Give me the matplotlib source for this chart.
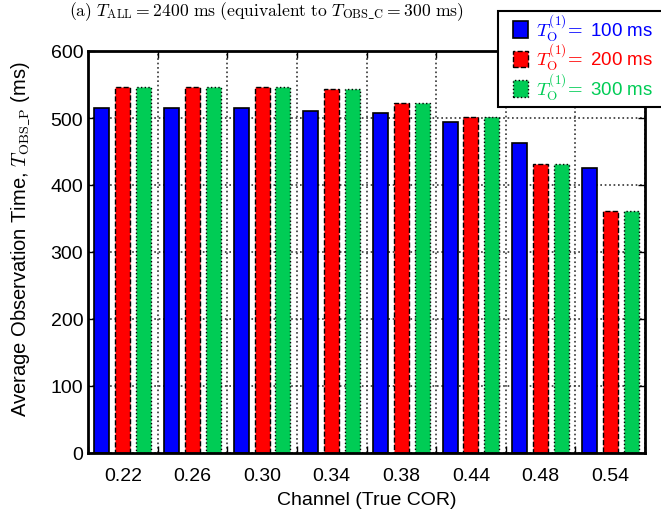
import numpy as np
import matplotlib.pyplot as plt
from matplotlib.patches import Rectangle
from matplotlib.ticker import FixedLocator, NullFormatter

channels = ['0.22', '0.26', '0.30', '0.34', '0.38', '0.44', '0.48', '0.54']
t100 = [515, 515, 515, 510, 507, 494, 463, 425]
t200 = [546, 546, 546, 543, 523, 501, 432, 361]
t300 = [546, 546, 546, 543, 523, 501, 432, 361]

plt.rcParams['font.family'] = ['Liberation Sans', 'DejaVu Sans']
plt.rcParams['mathtext.fontset'] = 'cm'

fig = plt.figure(figsize=(6.61, 5.10), dpi=100)
ax = fig.add_axes([88/661, 1-454/510, (645-88)/661, (454-52)/510])

x = np.arange(len(channels)) + 0.5
w = 0.215
green = '#00cc55'
lab = r'$T_{\mathrm{O}}^{(1)}\!=$'
ax.bar(x - 0.3, t100, w, color='#0000ff', edgecolor='black', linewidth=1.2,
       linestyle='-', label=lab + ' 100 ms', zorder=3)
ax.bar(x, t200, w, color='#ff0000', edgecolor='black', linewidth=1.0,
       linestyle='--', label=lab + ' 200 ms', zorder=3)
ax.bar(x + 0.3, t300, w, color=green, edgecolor='black', linewidth=1.0,
       linestyle=':', label=lab + ' 300 ms', zorder=3)

ax.set_xlim(0, len(channels))
ax.set_ylim(0, 600)
ax.set_yticks(np.arange(0, 601, 100))
ax.xaxis.set_major_locator(FixedLocator(np.arange(0, len(channels) + 1)))
ax.xaxis.set_major_formatter(NullFormatter())
ax.xaxis.set_minor_locator(FixedLocator(x))
ax.set_xticklabels(channels, minor=True)
ax.tick_params(axis='x', which='minor', length=0, pad=10, labelsize=14)
ax.tick_params(axis='both', which='major', direction='in', length=5,
               top=True, right=True, width=1, labelsize=14)
ax.grid(True, which='major', linestyle=':', color='#333333', linewidth=1.2, zorder=0)
for s in ax.spines.values():
    s.set_linewidth(2)
    s.set_zorder(5)

ax.set_xlabel('Channel (True COR)', fontsize=14)
ax.xaxis.set_label_coords(0.5, -(492 - 454) / 402)
ax.set_ylabel(r'Average Observation Time, $T_{\mathrm{OBS\_P}}$ (ms)', fontsize=14.5)
ax.yaxis.set_label_coords(-56 / 557, (454 - 239) / 402)

fig.text(266/661, 1-16/510,
         r'$\mathrm{(a)}\ T_{\mathrm{ALL}} = 2400\ \mathrm{ms}\ \mathrm{(equivalent\ to}\ '
         r'T_{\mathrm{OBS\_C}} = 300\ \mathrm{ms)}$',
         fontsize=12.7, ha='center', va='baseline')

# legend frame drawn separately so the left padding can be wider than the top
fig.patches.append(Rectangle((498/661, 1-108/510), 180/661, 96/510,
                             transform=fig.transFigure, facecolor='white',
                             edgecolor='black', linewidth=1.5, zorder=10))
leg = fig.legend(loc='upper left', bbox_to_anchor=(513/661, 1-12/510),
                 fontsize=13.5, frameon=False,
                 handlelength=0.8, handleheight=1.0, handletextpad=0.4,
                 borderpad=0, labelspacing=-0.1, borderaxespad=0)
leg.set_zorder(11)
for t, c in zip(leg.get_texts(), ['#0000ff', '#ff0000', green]):
    t.set_color(c)

fig.savefig('out.png', dpi=100)
